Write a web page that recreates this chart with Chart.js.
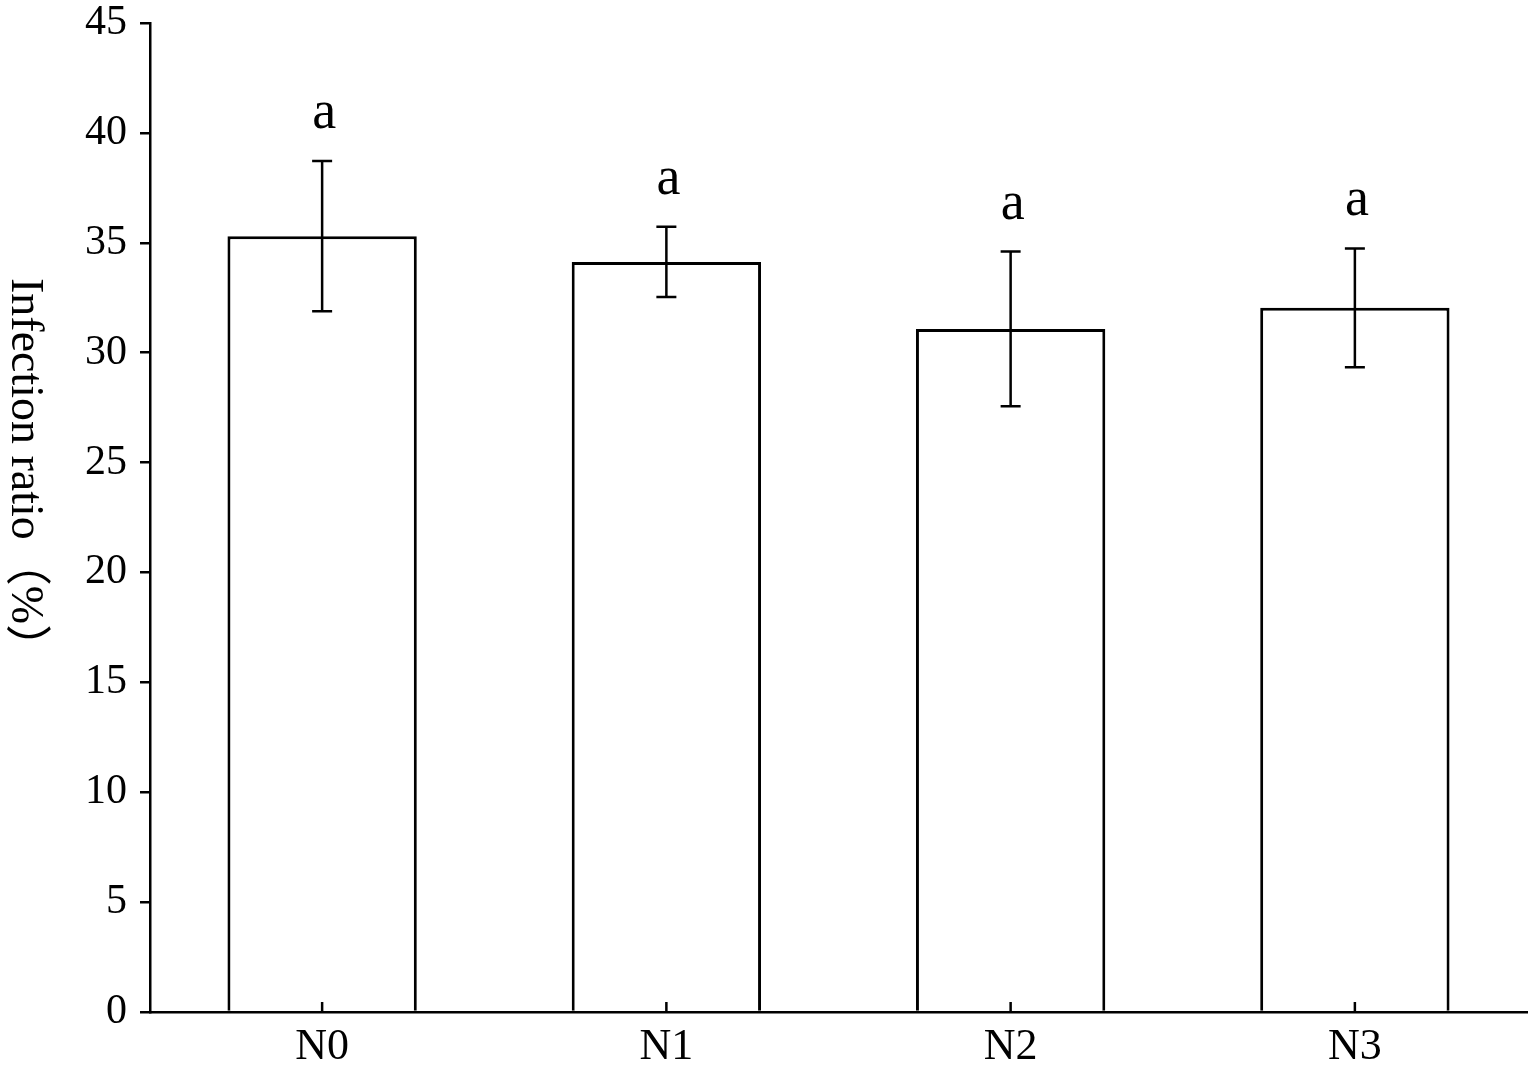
<!DOCTYPE html>
<html lang="en">
<head>
    <meta charset="UTF-8">
    <title>Infection ratio</title>
    <style>
        html, body {
            margin: 0;
            padding: 0;
            background-color: #ffffff;
            overflow: hidden;
        }
        #wrap {
            width: 1535px;
            height: 1067px;
            position: relative;
        }
    </style>
    <script src="https://cdn.jsdelivr.net/npm/chart.js"></script>
</head>
<body>
    <div id="wrap">
        <canvas id="ratioChart"></canvas>
    </div>

    <script>
        // data
        const groups = ['N0', 'N1', 'N2', 'N3'];
        const ratio = [35.3, 34.13, 31.08, 32.04];
        const errors = [3.42, 1.6, 3.52, 2.7];
        const letters = ['a', 'a', 'a', 'a'];
        const yTicks = [0, 5, 10, 15, 20, 25, 30, 35, 40, 45];
        const yTitle = 'Infection ratio（%）';

        const serif = '"Liberation Serif", "Times New Roman", "Noto Sans CJK SC", serif';

        // error bars, significance letters, inward x ticks and the rotated y title
        const extras = {
            id: 'extras',
            afterDatasetsDraw(chart) {
                const ctx = chart.ctx;
                const x = chart.scales.x;
                const y = chart.scales.y;
                const area = chart.chartArea;

                ctx.save();
                ctx.strokeStyle = '#000';
                ctx.lineWidth = 2.5;
                ctx.fillStyle = '#000';

                groups.forEach((g, i) => {
                    const cx = x.getPixelForValue(i);
                    const top = y.getPixelForValue(ratio[i] + errors[i]);
                    const bot = y.getPixelForValue(ratio[i] - errors[i]);
                    ctx.beginPath();
                    ctx.moveTo(cx, top);
                    ctx.lineTo(cx, bot);
                    ctx.moveTo(cx - 10, top);
                    ctx.lineTo(cx + 10, top);
                    ctx.moveTo(cx - 10, bot);
                    ctx.lineTo(cx + 10, bot);
                    ctx.stroke();

                    ctx.font = '54px ' + serif;
                    ctx.textAlign = 'center';
                    ctx.textBaseline = 'alphabetic';
                    ctx.fillText(letters[i], cx + 2, top - 33);

                    // x tick marks pointing into the plot
                    ctx.beginPath();
                    ctx.moveTo(cx, area.bottom);
                    ctx.lineTo(cx, area.bottom - 10);
                    ctx.stroke();
                });

                // y title, rotated clockwise
                ctx.font = '46px ' + serif;
                ctx.translate(12, 278);
                ctx.rotate(Math.PI / 2);
                ctx.textAlign = 'left';
                ctx.textBaseline = 'alphabetic';
                ctx.fillText(yTitle, 0, 0);
                ctx.restore();
            }
        };

        const ctx = document.getElementById('ratioChart').getContext('2d');

        new Chart(ctx, {
            type: 'bar',
            data: {
                labels: groups,
                datasets: [{
                    data: ratio,
                    backgroundColor: '#ffffff',
                    borderColor: '#000000',
                    borderWidth: 3,
                    barPercentage: 0.55,
                    categoryPercentage: 1
                }]
            },
            options: {
                responsive: true,
                maintainAspectRatio: false,
                animation: false,
                layout: {
                    padding: { top: 23, right: 8, bottom: 0, left: 0 }
                },
                plugins: {
                    legend: { display: false },
                    tooltip: { enabled: false }
                },
                scales: {
                    x: {
                        afterFit(scale) {
                            scale.height = 55;
                            scale.paddingLeft = 0;
                            scale.paddingRight = 0;
                        },
                        grid: { display: false, drawTicks: false },
                        border: { display: true, color: '#000', width: 2.5 },
                        ticks: {
                            color: '#000',
                            padding: 9,
                            font: { family: serif, size: 44 }
                        }
                    },
                    y: {
                        min: 0,
                        max: 45,
                        afterFit(scale) {
                            scale.width = 150;
                            scale.paddingTop = 0;
                            scale.paddingBottom = 0;
                        },
                        afterBuildTicks(scale) {
                            scale.ticks = yTicks.map(v => ({ value: v }));
                        },
                        grid: {
                            drawOnChartArea: false,
                            drawTicks: true,
                            tickLength: 10,
                            color: '#000',
                            lineWidth: 2.5
                        },
                        border: { display: true, color: '#000', width: 2.5 },
                        ticks: {
                            color: '#000',
                            padding: 13,
                            font: { family: serif, size: 42 }
                        }
                    }
                }
            },
            plugins: [extras]
        });
    </script>
</body>
</html>
